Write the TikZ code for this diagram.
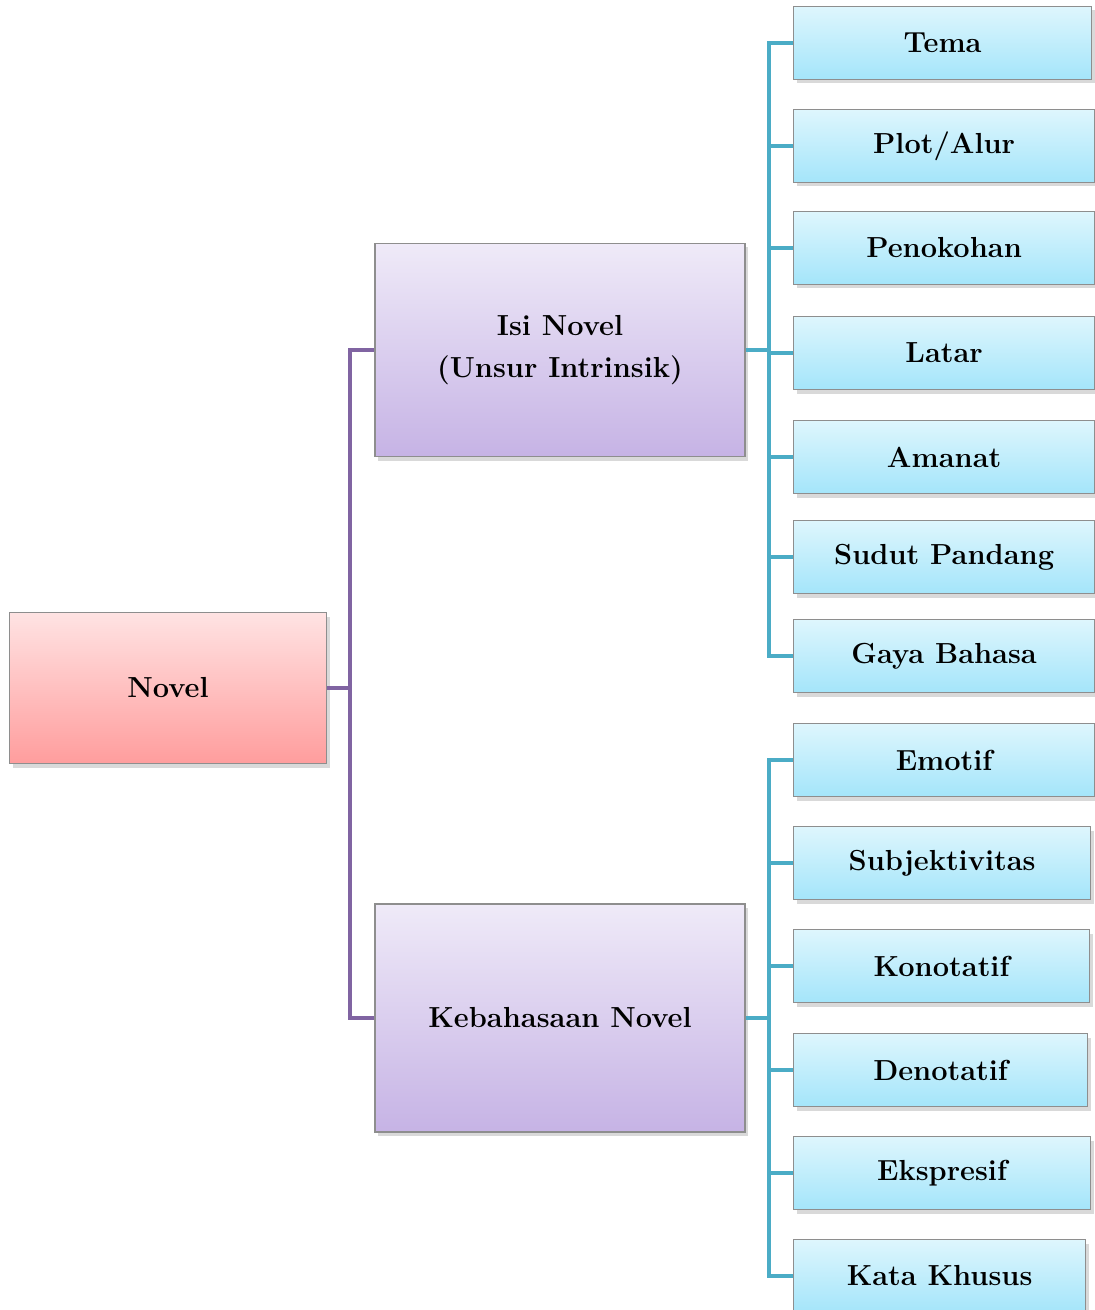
\documentclass[tikz,border=0pt]{standalone}
\usepackage{tikz}
\usetikzlibrary{shadows}

\definecolor{purpleline}{HTML}{8064A2}
\definecolor{tealline}{HTML}{4BACC6}
\definecolor{boxedge}{HTML}{8E8E8E}
\definecolor{redtop}{HTML}{FFE3E3}
\definecolor{redbot}{HTML}{FF9D9D}
\definecolor{violettop}{HTML}{EFEAF8}
\definecolor{violetbot}{HTML}{C6B3E5}
\definecolor{bluetop}{HTML}{DEF6FD}
\definecolor{bluebot}{HTML}{A4E5FA}

\tikzset{
  basebox/.style={draw=boxedge, line width=0.6pt, align=center,
    font=\fontsize{14.5}{21}\selectfont\bfseries, inner sep=0pt,
    drop shadow={opacity=0.3, shadow xshift=1.5pt, shadow yshift=-2pt}},
  novelbox/.style={basebox, top color=redtop, bottom color=redbot,
    minimum width=158.5pt, minimum height=75.5pt},
  isibox/.style={basebox, top color=violettop, bottom color=violetbot,
    minimum width=185pt},
  itembox/.style={basebox, top color=bluetop, bottom color=bluebot,
    anchor=west, minimum width=#1, minimum height=36.5pt},
  itembox/.default=150.5pt,
  purplelink/.style={draw=purpleline, line width=2.3pt},
  teallink/.style={draw=tealline, line width=2.3pt}
}

\begin{document}
\begin{tikzpicture}[x=0.5pt,y=-0.5pt]
\useasboundingbox (0,0) rectangle (1094,1310);

% boxes
\node[novelbox] (novel) at (168,688) {Novel};
\node[isibox, minimum height=106.5pt] (isi) at (560,350) {Isi Novel\\(Unsur Intrinsik)};
\node[isibox, minimum height=114pt] (keb) at (560,1018) {Kebahasaan Novel};

\node[itembox=149pt] (tema) at (793,43) {Tema};
\node[itembox] (plot) at (793,146) {Plot/Alur};
\node[itembox] (tokoh) at (793,248) {Penokohan};
\node[itembox] (latar) at (793,353) {Latar};
\node[itembox] (amanat) at (793,457) {Amanat};
\node[itembox] (sudut) at (793,557) {Sudut Pandang};
\node[itembox] (gaya) at (793,656) {Gaya Bahasa};

\node[itembox] (emotif) at (793,760) {Emotif};
\node[itembox=148.5pt] (subjek) at (793,863) {Subjektivitas};
\node[itembox=148pt] (konot) at (793,966) {Konotatif};
\node[itembox=147pt] (denot) at (793,1070) {Denotatif};
\node[itembox=148.5pt] (ekspr) at (793,1173) {Ekspresif};
\node[itembox=146pt] (khusus) at (793,1276) {Kata Khusus};

% connectors
\coordinate (jnovel) at (350,688);
\coordinate (jisi) at (769,350);
\coordinate (jkeb) at (769,1018);

\draw[purplelink] (novel.east) -- (jnovel);
\draw[purplelink] (isi.west) -| (jnovel) |- (keb.west);

\draw[teallink] (isi.east) -- (jisi);
\draw[teallink] (tema.west) -| (jisi) |- (gaya.west);
\foreach \n in {plot,tokoh,latar,amanat,sudut}
  \draw[teallink] (jisi) |- (\n.west);

\draw[teallink] (keb.east) -- (jkeb);
\draw[teallink] (emotif.west) -| (jkeb) |- (khusus.west);
\foreach \n in {subjek,konot,denot,ekspr}
  \draw[teallink] (jkeb) |- (\n.west);
\end{tikzpicture}
\end{document}
